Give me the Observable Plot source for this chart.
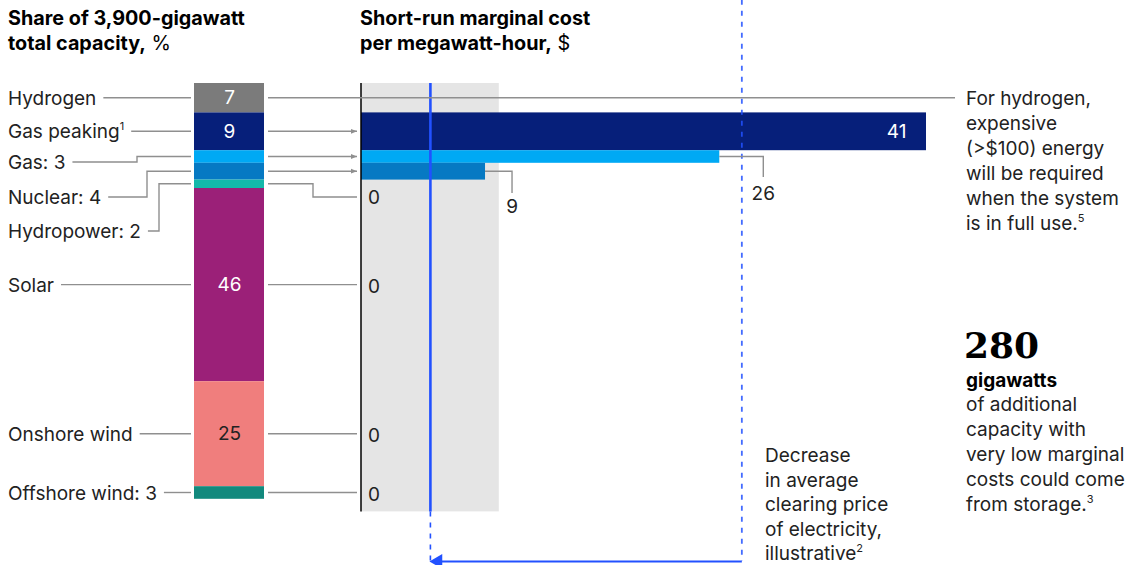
<!DOCTYPE html>
<html><head><meta charset="utf-8">
<script src="https://cdn.jsdelivr.net/npm/d3@7"></script>
<script src="https://cdn.jsdelivr.net/npm/@observablehq/plot@0.6"></script>
<style>
html,body{margin:0;padding:0;background:#fff;}
#chart{position:relative;width:1142px;height:565px;font-family:Inter,"Noto Sans",sans-serif;}
#chart svg{position:absolute;left:0;top:0;overflow:visible;}
</style></head><body><div id="chart"></div>
<script>
// ---- data ----
const categories = ["Hydrogen","Gas peaking","Gas","Nuclear","Hydropower","Solar","Onshore wind","Offshore wind"];
const shares = [7, 9, 3, 4, 2, 46, 25, 3];              // % of 3,900 GW
const costs = [null, 41, 26, 9, 0, 0, 0, 0];            // $/MWh short-run marginal cost
const shareLabels = ["7", "9", "", "", "", "46", "25", ""];
const leftLabels = ["Hydrogen", "Gas peaking", "Gas: 3", "Nuclear: 4", "Hydropower: 2", "Solar", "Onshore wind", "Offshore wind: 3"];
const leftLabelSup = ["", "1", "", "", "", "", "", ""];
const colors = ["#7b7b7b", "#061f7a", "#00a9f4", "#0679c3", "#14b8aa", "#9b2078", "#f07e7d", "#12897d"];
const lowCostBand = 10;          // shaded low-cost region, $/MWh
const newClearingPrice = 5;      // illustrative
const oldClearingPrice = 27.6;   // illustrative

const titleLeft = [["Share of 3,900-gigawatt", ""], ["total capacity,", " %"]];
const titleRight = [["Short-run marginal cost", ""], ["per megawatt-hour,", " $"]];
const hydrogenNote = ["For hydrogen,", "expensive", "(>$100) energy", "will be required", "when the system", "is in full use."];
const storageBig = "280";
const storageUnit = "gigawatts";
const storageNote = ["of additional", "capacity with", "very low marginal", "costs could come", "from storage."];
const decreaseNote = ["Decrease", "in average", "clearing price", "of electricity,", "illustrative"];

// ---- layout ----
const W = 1142, H = 565;
const FONT = "Inter, 'Noto Sans', sans-serif";
const TXT = "#222";
const LINE = "#8f8f8f";
const BLUE = "#2251ff";
const yOpts = {domain: [0, d3.sum(shares)], range: [83, 83 + 4.2 * d3.sum(shares)]};
const panelTop = -19.8, panelBottom = 102, arrowRow = 113.8;

const cum = Array.from(d3.cumsum(shares));
const mids = shares.map((s, i) => cum[i] - s / 2);
const rows = categories.map((c, i) => ({category: c, share: shares[i], cost: costs[i], label: shareLabels[i], mid: mids[i]}));
const container = document.getElementById("chart");

const left = Plot.plot({
  width: W, height: H, margin: 0,
  style: {background: "transparent", fontFamily: FONT},
  x: {domain: [0, 1], range: [194, 264], axis: null},
  y: {...yOpts, axis: null},
  color: {domain: categories, range: colors},
  marks: [
    Plot.rectY(rows, {x1: 0, x2: 1, y: "share", fill: "category"}),
    Plot.text(rows, {x: 0.5, y: "mid", text: d => d.category === "Onshore wind" ? "" : d.label, fill: "#fff", fontSize: 19}),
    Plot.text(rows, {x: 0.5, y: "mid", text: d => d.category === "Onshore wind" ? d.label : "", fill: TXT, fontSize: 19})
  ]
});

const maxCost = d3.max(costs);
const right = Plot.plot({
  width: W, height: H, margin: 0,
  style: {background: "transparent", fontFamily: FONT},
  x: {domain: [0, 41], range: [361, 926], axis: null},
  y: {...yOpts, axis: null},
  color: {domain: categories, range: colors},
  marks: [
    Plot.rect([lowCostBand], {x1: 0, x2: d => d, y1: 0, y2: panelBottom, fill: "#e5e5e5"}),
    Plot.rect(rows, Plot.stackY({x1: 0, x2: "cost", y: "share", fill: "category"})),
    Plot.text(rows.filter(d => d.cost === maxCost), {x: "cost", y: "mid", text: d => String(d.cost), dx: -20, textAnchor: "end", fill: "#fff", fontSize: 19}),
    Plot.ruleX([0], {y1: 0, y2: panelBottom, stroke: "#000", strokeWidth: 1.5, dx: -0.5}),
    Plot.ruleX([newClearingPrice], {y1: 0, y2: panelBottom, stroke: BLUE, strokeWidth: 2.6}),
    Plot.ruleX([newClearingPrice], {y1: panelBottom, y2: arrowRow, stroke: BLUE, strokeWidth: 1.6, strokeDasharray: "5,6"}),
    Plot.ruleX([oldClearingPrice], {y1: panelTop, y2: arrowRow, stroke: BLUE, strokeWidth: 1.8, strokeDasharray: "5,6", strokeOpacity: 0.85}),
    Plot.link([0], {x1: oldClearingPrice, x2: newClearingPrice + 0.6, y1: arrowRow, y2: arrowRow, stroke: BLUE, strokeWidth: 2}),
    Plot.dot([0], {x: newClearingPrice + 0.55, y: arrowRow, symbol: "triangle", r: 5.5, rotate: -90, fill: BLUE, stroke: "none"})
  ]
});

container.appendChild(right);
container.appendChild(left);

// ---- annotations ----
const Y = v => right.scale("y").apply(v);
const X = v => right.scale("x").apply(v);
const XL = v => left.scale("x").apply(v);

const svg = d3.select(container).append("svg").attr("width", W).attr("height", H)
  .attr("font-family", FONT);
svg.append("defs").append("marker").attr("id", "ah").attr("viewBox", "0 0 10 10")
  .attr("refX", 10).attr("refY", 5).attr("markerWidth", 6).attr("markerHeight", 6)
  .attr("markerUnits", "userSpaceOnUse").attr("orient", "auto")
  .append("path").attr("d", "M0,1L10,5L0,9z").attr("fill", LINE);

const g = svg.append("g");
function addText(x, y, parts, opts = {}) {
  const t = g.append("text").attr("x", x).attr("y", y)
    .attr("font-size", opts.size || 19).attr("fill", opts.fill || TXT)
    .attr("font-weight", opts.weight || 400)
    .attr("text-anchor", opts.anchor || "start");
  if (opts.family) t.attr("font-family", opts.family);
  for (const p of parts) {
    const s = t.append("tspan").text(p.t);
    if (p.w) s.attr("font-weight", p.w);
    if (p.sup) s.attr("font-size", 11).attr("dy", -8);
  }
  return t;
}
function path(d, marker) {
  const p = g.append("path").attr("d", d).attr("fill", "none").attr("stroke", LINE).attr("stroke-width", 1.4);
  if (marker) p.attr("marker-end", "url(#ah)");
}

// titles
titleLeft.forEach((l, i) => addText(8, 25 + i * 24.5, [{t: l[0], w: 700}, {t: l[1], w: 400}], {fill: "#000", size: 19.8}));
titleRight.forEach((l, i) => addText(360, 25 + i * 24.5, [{t: l[0], w: 700}, {t: l[1], w: 400}], {fill: "#000", size: 19.8}));

// left labels and leader lines
const leftRowY = [null, null, 162, 197, 231, null, null, null];
const leftElbowX = [null, null, 137, 147, 159, null, null, null];
const barL = XL(0) - 3, barR = XL(1) + 4, axisX = X(0) - 4;
leftLabels.forEach((lab, i) => {
  const ty = leftRowY[i] ?? Y(mids[i]);
  const parts = [{t: lab}];
  if (leftLabelSup[i]) parts.push({t: leftLabelSup[i], sup: true});
  const t = addText(8, ty + 7, parts);
  const end = 8 + t.node().getComputedTextLength() + 7;
  if (leftElbowX[i] != null) path(`M${end},${ty}H${leftElbowX[i]}V${Y(mids[i])}H${barL}`);
  else path(`M${end},${ty}H${barL}`);
});

// right connectors
const hydroZeroRow = 197;
rows.forEach((d, i) => {
  const y = Y(mids[i]);
  if (d.cost == null) { path(`M${barR},${y}H955`); return; }
  if (d.cost > 0) { path(`M${barR},${y}H${axisX}`, true); return; }
  if (d.category === "Hydropower") {
    path(`M${barR},${y}H313V${hydroZeroRow}H${axisX}`);
    addText(X(0) + 7, hydroZeroRow + 7, [{t: "0"}]);
  } else {
    path(`M${barR},${y}H${axisX}`);
    addText(X(0) + 7, y + 8, [{t: "0"}]);
  }
});

// outside value labels for Gas and Nuclear
const outLabels = [{i: 2, dx: 44, drop: 177, base: 200}, {i: 3, dx: 27, drop: 193, base: 213}];
outLabels.forEach(o => {
  const x0 = X(costs[o.i]), y = Y(mids[o.i]);
  path(`M${x0},${y}H${x0 + o.dx}V${o.drop}`);
  addText(x0 + o.dx, o.base, [{t: String(costs[o.i])}], {anchor: "middle"});
});

// right notes
hydrogenNote.forEach((l, i) => {
  const parts = [{t: l}];
  if (i === hydrogenNote.length - 1) parts.push({t: "5", sup: true});
  addText(966, 105 + i * 25, parts);
});
addText(964, 358, [{t: storageBig}], {size: 36, weight: 700, family: "'DejaVu Serif', serif", fill: "#000"});
addText(966, 387, [{t: storageUnit}], {weight: 700, fill: "#000"});
storageNote.forEach((l, i) => {
  const parts = [{t: l}];
  if (i === storageNote.length - 1) parts.push({t: "3", sup: true});
  addText(966, 411 + i * 25, parts);
});
decreaseNote.forEach((l, i) => {
  const parts = [{t: l}];
  if (i === decreaseNote.length - 1) parts.push({t: "2", sup: true});
  addText(765, 462 + i * 24.5, parts);
});
</script></body></html>
